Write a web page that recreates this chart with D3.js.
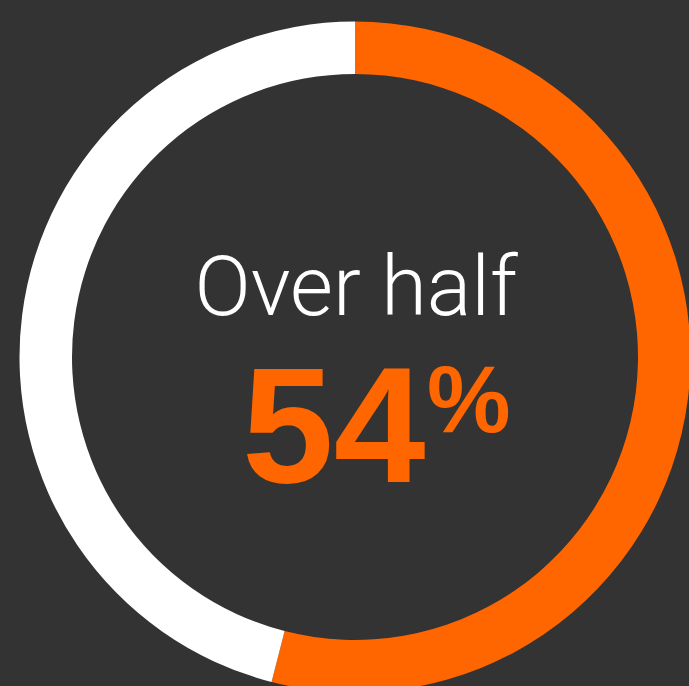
<!DOCTYPE html>
<html><head><meta charset="utf-8">
<script src="https://cdn.jsdelivr.net/npm/d3@7"></script>
<style>html,body{margin:0;padding:0;background:#333333;overflow:hidden}</style>
</head><body>
<script>
const categories = ["Yes", "No"];
const values = [54, 46];
const colors = ["#FF6600", "#FFFFFF"];
const headline = "Over half";
const valueLabel = "54";
const unitLabel = "%";

const W = 689, H = 686;
const cx = 355, cy = 357, rOuter = 335.5, rInner = 283;
const svg = d3.select("body").append("svg").attr("width", W).attr("height", H);
svg.append("rect").attr("width", W).attr("height", H).attr("fill", "#333333");
const g = svg.append("g").attr("transform", `translate(${cx},${cy})`);
const pie = d3.pie().sort(null).value(d => d);
const arc = d3.arc().innerRadius(rInner).outerRadius(rOuter);
g.selectAll("path").data(pie(values)).join("path")
  .attr("d", arc).attr("fill", (d, i) => colors[i]);

svg.append("text").attr("x", 356).attr("y", 315).attr("text-anchor", "middle")
  .attr("font-family", "Roboto, 'Liberation Sans', sans-serif").attr("font-weight", 300)
  .attr("font-size", 83).attr("fill", "#FFFFFF").text(headline);
svg.append("text").attr("x", 242).attr("y", 482)
  .attr("font-family", "'Liberation Sans', Arial, sans-serif").attr("font-weight", 700)
  .attr("font-size", 165).attr("fill", "#FF6600").text(valueLabel);
svg.append("text").attr("x", 427).attr("y", 432)
  .attr("font-family", "'Liberation Sans', Arial, sans-serif").attr("font-weight", 700)
  .attr("font-size", 94).attr("fill", "#FF6600").text(unitLabel);
</script>
</body></html>
